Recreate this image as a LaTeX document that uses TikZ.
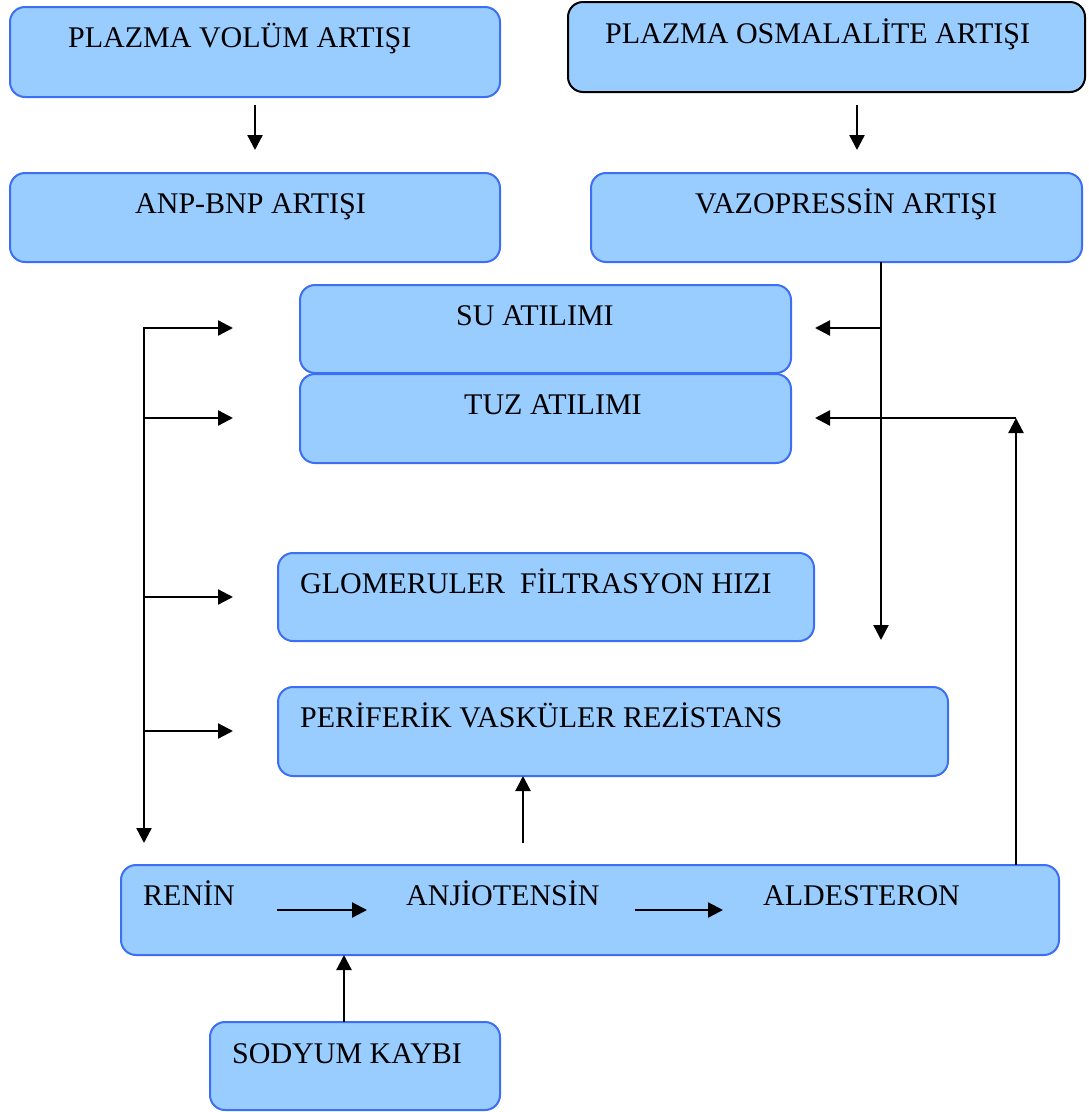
\documentclass[tikz,border=0pt]{standalone}
\usepackage{fontspec}
\setmainfont{Liberation Serif}
\usetikzlibrary{arrows.meta}
\definecolor{boxfill}{HTML}{99CCFF}
\definecolor{boxline}{HTML}{3D6FF5}
\begin{document}
\begin{tikzpicture}[x=1pt,y=-1pt,
  box/.style={draw=boxline, fill=boxfill, line width=2pt, rounded corners=15pt, inner sep=0pt, outer sep=0pt, anchor=north west},
  lbl/.style={anchor=base west, inner sep=0pt, font=\fontsize{30}{35}\selectfont},
  arr/.style={line width=2.3pt, -{Triangle[length=15pt,width=15pt]}},
  arrtwo/.style={line width=2.3pt, {Triangle[length=15pt,width=15pt]}-{Triangle[length=15pt,width=15pt]}}]
\useasboundingbox (0,0) rectangle (1088,1112);

% boxes
\node[box, minimum width=490pt, minimum height=90pt] (b1) at (10,7) {};
\node[box, draw=black, minimum width=517pt, minimum height=90pt] (b2) at (568,2) {};
\node[box, minimum width=490pt, minimum height=89pt] (b3) at (10,173) {};
\node[box, minimum width=491pt, minimum height=89pt] (b4) at (591,173) {};
\node[box, minimum width=491pt, minimum height=88pt] (b5) at (300,285) {};
\node[box, minimum width=491pt, minimum height=89pt] (b6) at (300,374) {};
\node[box, minimum width=536pt, minimum height=88pt] (b7) at (278,553) {};
\node[box, minimum width=670pt, minimum height=89pt] (b8) at (278,687) {};
\node[box, minimum width=938pt, minimum height=90pt] (b9) at (121,865) {};
\node[box, minimum width=290pt, minimum height=88pt] (b10) at (210,1022) {};

% labels
\node[lbl] (t1) at (68,47) {PLAZMA VOLÜM ARTIŞI};
\node[lbl] (t2) at (605,43) {PLAZMA OSMALALİTE ARTIŞI};
\node[lbl] (t3) at (135,213) {ANP-BNP ARTIŞI};
\node[lbl] (t4) at (695,213) {VAZOPRESSİN ARTIŞI};
\node[lbl] (t5) at (456,325) {SU ATILIMI};
\node[lbl] (t6) at (464,414) {TUZ ATILIMI};
\node[lbl] (t7) at (300,593) {GLOMERULER~ FİLTRASYON HIZI};
\node[lbl] (t8) at (300,727) {PERİFERİK VASKÜLER REZİSTANS};
\node[lbl] (t9) at (143,905) {RENİN};
\node[lbl] (t10) at (406,905) {ANJİOTENSİN};
\node[lbl] (t11) at (763,905) {ALDESTERON};
\node[lbl] (t12) at (232,1063) {SODYUM KAYBI};

% coordinates
\coordinate (a1s) at (255,105); \coordinate (a1e) at (255,150);
\coordinate (a2s) at (857,105); \coordinate (a2e) at (857,150);
\coordinate (rvE) at (881,640);
\coordinate (rvSu) at (881,328); \coordinate (suR) at (815,328);
\coordinate (alC) at (1016,418); \coordinate (tuzR) at (815,418);
\coordinate (lbTop) at (144,328); \coordinate (lbBot) at (144,843);
\coordinate (lb2) at (144,418); \coordinate (lb3) at (144,597); \coordinate (lb4) at (144,731);
\coordinate (suL) at (233,328); \coordinate (tuzL) at (233,418);
\coordinate (gfrL) at (233,597); \coordinate (pvrL) at (233,731);
\coordinate (upS) at (523,843);
\coordinate (r1s) at (277,910); \coordinate (r1e) at (367,910);
\coordinate (r2s) at (635,910); \coordinate (r2e) at (723,910);

% connectors
\draw[arr] (a1s) -- (a1e);
\draw[arr] (a2s) -- (a2e);
\draw[arr] (b4.south -| rvE) -- (rvE);
\draw[arr] (rvSu) -- (suR);
\draw[arr] (b9.north -| alC) -- (alC);
\draw[arr] (alC) -- (tuzR);
\draw[arrtwo] (suL) -- (lbTop) -- (lbBot);
\draw[arr] (lb2) -- (tuzL);
\draw[arr] (lb3) -- (gfrL);
\draw[arr] (lb4) -- (pvrL);
\draw[arr] (upS) -- (b8.south -| upS);
\draw[arr] (r1s) -- (r1e);
\draw[arr] (r2s) -- (r2e);
\draw[arr] (b10.north -| 344,0) -- (b9.south -| 344,0);
\end{tikzpicture}
\end{document}
